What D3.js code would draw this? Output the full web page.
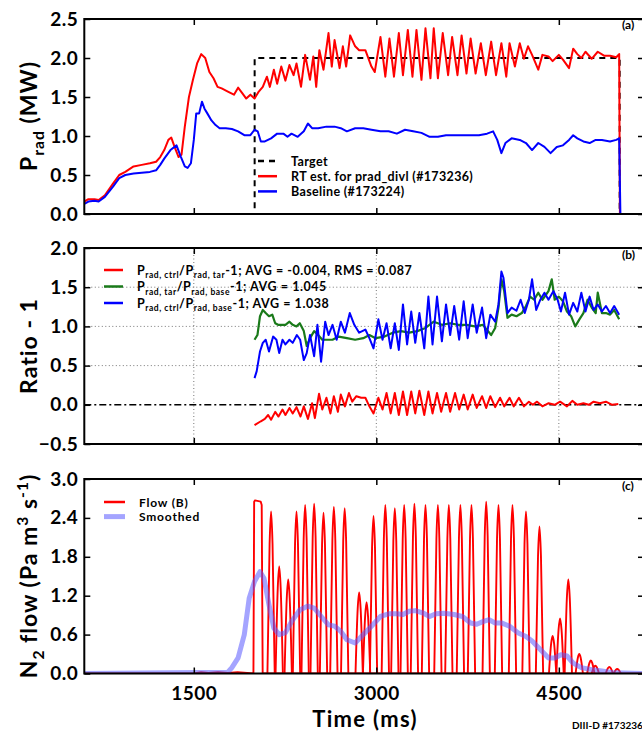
<!DOCTYPE html>
<html><head><meta charset="utf-8">
<script src="https://cdn.jsdelivr.net/npm/d3@7"></script>
<style>body{margin:0;background:#fff} svg{display:block} text{font-family:Lato,sans-serif}</style>
</head><body><svg id="c" width="642" height="734"></svg>
<script>
// ---------- DATA (time in ms) ----------
const xTicks = [1500, 3000, 4500];
const yTicksA = [0, 0.5, 1.0, 1.5, 2.0, 2.5];
const yTicksB = [-0.5, 0, 0.5, 1.0, 1.5, 2.0];
const yTicksC = [0, 0.6, 1.2, 1.8, 2.4, 3.0];

// Panel (a)
const targetT = [600, 2000, 2000, 5000, 5000];
const targetV = [0, 0, 2.0, 2.0, 0];
const rtT = [600,634,684,718,769,836,887,937,1005,1072,1139,1190,1224,1257,1291,1315,1342,1375,1399,1426,1460,1493,1527,1561,1594,1628,1662,1695,1729,1780,1830,1864,1898,1931,1965,1999,
 2034,2067,2101,2125,2158,2185,2219,2253,2286,2320,2344,2381,2415,2455,2482,2506,2532,2566,2607,2634,2657,2698,2725,2752,2785,2826,2859,2910,2960,2987,3034,3074,3108,3145,3185,3219,3259,3297,3330,3371,3404,3445,3472,3506,3546,3590,3623,3667,3701,3741,3775,3816,3859,3900,3944,3984,4028,4068,4095,4139,4179,4213,4247,4280,4331,4365,4415,4449,4500,4534,4584,4618,4652,4685,4719,4770,4820,4871,4921,4972,4996,5002,5200];
const rtV = [0.16,0.19,0.19,0.18,0.24,0.39,0.5,0.54,0.61,0.63,0.65,0.67,0.73,0.82,0.95,0.98,0.86,0.73,0.76,1.12,1.5,1.72,1.93,2.05,2.0,1.82,1.74,1.63,1.61,1.57,1.53,1.62,1.55,1.48,1.53,1.48,
 1.57,1.63,1.76,1.63,1.85,1.67,1.89,1.71,1.91,1.78,1.93,1.63,2.04,1.72,2.02,1.63,2.1,1.85,2.32,1.89,2.23,1.87,2.15,1.89,2.29,2.15,2.1,2.1,1.89,1.82,2.27,1.76,2.25,1.76,2.32,1.78,2.36,1.76,2.36,1.72,2.38,1.74,2.38,1.74,2.32,1.78,2.27,1.78,2.29,1.8,2.25,1.8,2.19,1.78,2.21,1.78,2.19,1.76,2.19,1.89,2.19,1.99,2.15,2.04,1.85,2.04,2.02,1.96,2.04,1.98,1.87,2.12,2.05,2.0,2.08,1.99,2.08,2.03,2.03,2.01,2.05,0,0];
const baseT = [600,634,684,718,769,836,887,937,1005,1072,1139,1190,1224,1257,1308,1358,1392,1426,1449,1476,1500,1520,1544,1567,1588,1611,1645,1679,1712,1763,1813,1864,1915,1965,1999,2025,2051,2084,2135,2185,2236,2270,2303,2354,2404,2438,2472,2522,2590,2657,2708,2758,2826,2893,2960,3034,3101,3169,3236,3303,3371,3438,3506,3573,3640,3708,3775,3843,3910,3960,3994,4028,4061,4112,4179,4230,4280,4331,4382,4432,4483,4534,4584,4618,4652,4702,4753,4803,4854,4921,4972,4996,5006,5200];
const baseV = [0.13,0.16,0.17,0.16,0.22,0.35,0.46,0.5,0.52,0.53,0.54,0.56,0.63,0.71,0.82,0.88,0.74,0.61,0.59,0.65,0.95,1.29,1.29,1.44,1.35,1.29,1.2,1.14,1.1,1.1,1.09,1.06,1.01,1.01,1.08,1.06,0.93,0.93,0.97,1.03,1.03,0.99,1.03,0.99,1.06,1.16,1.1,1.1,1.12,1.12,1.1,1.06,1.1,1.1,1.08,1.06,1.06,1.03,1.08,1.06,1.04,0.99,0.99,1.01,1.01,1.01,1.01,1.01,1.03,1.06,0.95,0.78,0.91,0.97,0.95,0.91,0.82,0.91,0.86,0.78,0.86,0.88,0.95,1.01,0.97,0.93,0.91,0.95,0.95,0.93,0.95,0.97,0,0];

// Panel (b)
const ctrlTarT = [1999,2051,2084,2111,2135,2169,2196,2229,2253,2286,2313,2344,2377,2404,2438,2472,2495,2529,2556,2590,2623,2651,2684,2708,2742,2775,2802,2836,2876,2910,2943,2977,3017,3051,3084,3118,3152,3185,3219,3253,3287,3320,3354,3394,3428,3462,3499,3533,3573,3607,3647,3681,3718,3751,3792,3825,3869,3903,3937,3977,4017,4051,4095,4129,4172,4213,4254,4287,4321,4365,4416,4466,4510,4567,4611,4652,4702,4746,4786,4837,4887,4938,4989];
const ctrlTarV = [-0.26,-0.21,-0.18,-0.13,-0.19,-0.09,-0.15,-0.06,-0.13,-0.04,-0.11,-0.03,-0.15,-0.02,-0.18,0.02,-0.17,0.14,-0.06,0.09,-0.11,0.11,-0.09,0.13,-0.02,0.15,0.04,0.11,0.09,0.09,-0.02,-0.11,0.09,-0.06,0.15,-0.11,0.15,-0.13,0.17,-0.13,0.17,-0.11,0.18,-0.13,0.17,-0.11,0.15,-0.09,0.15,-0.09,0.15,-0.06,0.13,-0.06,0.13,-0.04,0.11,-0.04,0.11,-0.03,0.09,-0.02,0.09,-0.02,0.09,-0.02,0.04,0.0,0.04,-0.02,0.02,0.0,0.04,-0.02,0.05,0.0,0.02,0.0,0.04,0.02,0.04,0.0,0.01];
const tarBaseT = [1999,2023,2044,2067,2091,2118,2145,2169,2192,2219,2253,2286,2313,2344,2371,2404,2428,2455,2489,2522,2556,2590,2640,2691,2758,2826,2893,2943,2994,3067,3135,3202,3270,3337,3404,3472,3539,3607,3674,3741,3809,3876,3944,3977,4004,4028,4051,4078,4112,4152,4196,4230,4264,4297,4331,4365,4415,4442,4466,4500,4534,4567,4601,4635,4669,4702,4736,4770,4803,4820,4854,4887,4921,4955,4996];
const tarBaseV = [0.83,0.89,1.13,1.21,1.17,1.13,1.15,1.04,1.02,1.02,1.02,1.06,1.02,1.0,1.04,0.94,0.75,0.85,0.94,0.89,0.83,0.83,0.83,0.87,0.85,0.83,0.85,0.89,0.85,0.87,0.92,0.94,0.92,0.94,0.98,1.06,1.02,1.04,1.02,1.02,1.0,1.02,0.89,0.98,1.24,1.6,1.45,1.11,1.15,1.13,1.17,1.26,1.38,1.34,1.43,1.34,1.45,1.6,1.34,1.38,1.32,1.19,1.13,1.0,1.09,1.17,1.34,1.24,1.17,1.43,1.17,1.17,1.15,1.21,1.09];
const ctrlBaseT = [1999,2017,2044,2067,2091,2118,2152,2179,2202,2229,2253,2286,2313,2347,2374,2404,2428,2455,2489,2516,2546,2580,2607,2640,2674,2708,2742,2782,2819,2859,2910,2943,2977,3017,3051,3084,3118,3152,3185,3219,3253,3287,3320,3354,3394,3428,3462,3499,3539,3573,3607,3640,3681,3718,3751,3792,3825,3869,3903,3937,3977,4004,4028,4045,4078,4112,4152,4186,4220,4254,4280,4314,4348,4382,4415,4456,4490,4517,4551,4584,4618,4652,4685,4719,4753,4786,4820,4854,4887,4921,4955,4996];
const ctrlBaseV = [0.34,0.43,0.68,0.79,0.83,0.68,0.87,0.83,0.66,0.83,0.77,0.83,0.79,0.89,0.83,0.57,0.66,0.89,0.62,1.02,0.55,1.06,0.89,1.02,0.83,1.06,0.92,1.17,1.02,0.92,0.96,0.85,0.72,1.09,0.83,1.04,0.72,1.04,0.7,1.28,0.77,1.19,0.79,1.17,0.72,1.38,0.77,1.38,0.81,1.28,0.89,1.26,0.83,1.32,0.85,1.28,0.92,1.24,0.85,1.15,1.06,1.28,1.7,1.62,1.17,1.24,1.2,1.34,1.17,1.34,1.6,1.21,1.34,1.43,1.34,1.45,1.34,1.19,1.43,1.15,1.3,1.19,1.43,1.19,1.38,1.21,1.28,1.19,1.26,1.17,1.26,1.15];

// Panel (c)
const pulseT = [2135,2202,2276,2344,2415,2489,2566,2651,2740,2859,2920,2977,3074,3152,3229,3313,3404,3506,3596,3691,3782,3903,4004,4119,4230,4341,4449,4510,4578,4668,4763,4800,4915,4980];
const pulseH = [2.5,1.65,1.45,2.5,2.6,2.62,2.48,2.57,2.55,1.25,1.1,2.43,2.6,2.55,2.6,2.62,2.6,2.6,2.6,2.6,2.6,2.65,2.6,2.6,2.5,2.27,0.58,0.85,1.45,0.3,0.2,0.12,0.1,0.07];
const wideT = [600,1500,1560,1620,1700,1780,1860,1990,1996,2003,2050,2058,2066,5200];
const wideV = [0,0,0.02,0.01,0.02,0.01,0.02,0.0,2.65,2.67,2.65,2.6,0,0];
const smoothT = [600,1780,1813,1864,1915,1955,1999,2044,2077,2118,2158,2202,2253,2303,2371,2438,2489,2556,2607,2657,2708,2758,2826,2893,2960,3034,3101,3169,3219,3270,3320,3388,3438,3489,3556,3640,3708,3775,3825,3876,3927,3977,4028,4095,4163,4230,4280,4348,4415,4466,4517,4567,4618,4685,4770,4854,4955,5200];
const smoothV = [0,0.02,0.09,0.24,0.6,1.16,1.42,1.57,1.47,1.06,0.7,0.6,0.63,0.8,0.98,1.04,1.01,0.86,0.75,0.73,0.65,0.52,0.47,0.6,0.73,0.88,0.92,0.92,0.91,0.96,0.97,0.93,0.88,0.92,0.93,0.91,0.88,0.78,0.76,0.8,0.83,0.78,0.78,0.73,0.63,0.57,0.5,0.37,0.24,0.24,0.29,0.27,0.16,0.09,0.06,0.04,0.01,0];

// ---------- DRAW ----------
const svg = d3.select('#c');
const X0 = 84.3, X1 = 644;
const x = d3.scaleLinear().domain([600, 5200]).range([X0, X1]);
const panels = {
  a: {top: 19, bot: 214, dom: [0, 2.5], ticks: yTicksA},
  b: {top: 248, bot: 444, dom: [-0.5, 2.0], ticks: yTicksB},
  c: {top: 479, bot: 673.5, dom: [0, 3.0], ticks: yTicksC}
};
const fmt = d3.format('.1f');
Object.entries(panels).forEach(([k, p]) => {
  p.y = d3.scaleLinear().domain(p.dom).range([p.bot, p.top]);
  svg.append('clipPath').attr('id', 'clip' + k).append('rect')
    .attr('x', X0).attr('y', p.top).attr('width', X1 - X0).attr('height', p.bot - p.top);
  p.data = svg.append('g').attr('clip-path', `url(#clip${k})`);
});

// grid for panel b
const pb = panels.b;
pb.data.selectAll('line.gx').data(xTicks).join('line')
  .attr('x1', d => x(d)).attr('x2', d => x(d)).attr('y1', pb.top).attr('y2', pb.bot)
  .attr('stroke', '#777').attr('stroke-width', 1).attr('stroke-dasharray', '1,2.5');
pb.data.selectAll('line.gy').data([0.5, 1.0, 1.5]).join('line')
  .attr('x1', X0).attr('x2', X1).attr('y1', d => pb.y(d)).attr('y2', d => pb.y(d))
  .attr('stroke', '#777').attr('stroke-width', 1).attr('stroke-dasharray', '1,2.5');

function series(p, T, V, color, w, extra) {
  const pts = T.map((t, i) => [t, V[i]]);
  const ln = d3.line().x(d => x(d[0])).y(d => p.y(d[1]));
  const path = p.data.append('path').datum(pts).attr('d', ln)
    .attr('fill', 'none').attr('stroke', color).attr('stroke-width', w)
    .attr('stroke-linejoin', 'round');
  if (extra) extra(path);
  return path;
}

// Panel a
const pa = panels.a;
series(pa, targetT, targetV, '#000', 2, s => s.attr('stroke-dasharray', '6,5'));
series(pa, rtT, rtV, '#ff0000', 2);
series(pa, baseT, baseV, '#0000ff', 2);

// Panel b
pb.data.append('line').attr('x1', X0).attr('x2', X1).attr('y1', pb.y(0)).attr('y2', pb.y(0))
  .attr('stroke', '#000').attr('stroke-width', 1.6).attr('stroke-dasharray', '7,3,2,3');
series(pb, ctrlTarT, ctrlTarV, '#ff0000', 2);
series(pb, tarBaseT, tarBaseV, '#1a7a1a', 2.2);
series(pb, ctrlBaseT, ctrlBaseV, '#0000ff', 2);

// Panel c
const pc = panels.c;
series(pc, wideT, wideV, '#ff0000', 1.9);
pulseT.forEach((t, i) => {
  const h = pulseH[i];
  const pts = [[t - 30, 0], [t - 12, h * 0.8], [t, h], [t + 12, h * 0.8], [t + 30, 0]];
  pc.data.append('path').datum(pts)
    .attr('d', d3.line().x(d => x(d[0])).y(d => pc.y(d[1])).curve(d3.curveMonotoneX))
    .attr('fill', 'none').attr('stroke', '#ff0000').attr('stroke-width', 1.9);
});
series(pc, smoothT, smoothV, 'rgba(90,90,255,0.55)', 5);

// Axes & frames
Object.entries(panels).forEach(([k, p]) => {
  const g = svg.append('g');
  g.append('g').attr('transform', `translate(${X0},0)`)
    .call(d3.axisLeft(p.y).tickValues(p.ticks).tickFormat(fmt).tickSize(-6).tickSizeOuter(0).tickPadding(6));
  g.append('g').attr('transform', `translate(${X1},0)`)
    .call(d3.axisRight(p.y).tickValues(p.ticks).tickFormat('').tickSize(-6).tickSizeOuter(0));
  g.append('g').attr('transform', `translate(0,${p.top})`)
    .call(d3.axisTop(x).tickValues(xTicks).tickFormat('').tickSize(-6).tickSizeOuter(0));
  g.append('g').attr('transform', `translate(0,${p.bot})`)
    .call(d3.axisBottom(x).tickValues(xTicks).tickFormat(k === 'c' ? d3.format('d') : '').tickSize(-6).tickSizeOuter(0).tickPadding(13));
  g.selectAll('.domain').remove();
  g.selectAll('.tick line').attr('stroke', '#000').attr('stroke-width', 1.5);
  g.selectAll('.tick text').attr('font-family', 'Lato,sans-serif').attr('font-weight', 700)
    .attr('font-size', 19).attr('fill', '#000').attr('letter-spacing', 0.5);
  g.append('rect').attr('x', X0).attr('y', p.top).attr('width', X1 - X0).attr('height', p.bot - p.top)
    .attr('fill', 'none').attr('stroke', '#000').attr('stroke-width', 2);
});

// Text helpers
function richText(parent, parts, size) {
  const t = parent.append('text').attr('font-size', size);
  let shift = 0;
  parts.forEach(([s, type]) => {
    const target = type === 'sub' ? 0.3 : type === 'sup' ? -0.4 : 0;
    t.append('tspan').text(s)
      .attr('font-size', type ? size * 0.68 : size)
      .attr('dy', ((target - shift) * size).toFixed(2));
    shift = target;
  });
  return t;
}

function yTitle(cx, cy, parts, size) {
  const g = svg.append('g').attr('transform', `translate(${cx},${cy}) rotate(-90)`);
  return richText(g, parts, size).attr('text-anchor', 'middle').attr('font-weight', 700)
    .attr('fill', '#000').attr('letter-spacing', 1);
}
yTitle(37, 116, [['P', ''], ['rad', 'sub'], [' (MW)', '']], 23);
yTitle(37, 346, [['Ratio - 1', '']], 23);
yTitle(37, 576, [['N', ''], ['2', 'sub'], [' flow (Pa m', ''], ['3', 'sup'], [' s', ''], ['-1', 'sup'], [')', '']], 23);

svg.append('text').attr('x', 365).attr('y', 727).attr('text-anchor', 'middle')
  .attr('font-size', 22).attr('font-weight', 700).attr('letter-spacing', 1.3).text('Time (ms)');
svg.append('text').attr('x', 572).attr('y', 729).attr('font-size', 10).attr('font-weight', 700).text('DIII-D #173236');

[['(a)', 29], ['(b)', 259], ['(c)', 490]].forEach(([s, yy]) => {
  svg.append('text').attr('x', 622).attr('y', yy).attr('font-size', 12).attr('font-weight', 700).text(s);
});

// Legends
function legend(x0, y0, dy, items, lw, fs, ls) {
  items.forEach((it, i) => {
    const yy = y0 + i * dy;
    const l = svg.append('line').attr('x1', x0).attr('x2', x0 + lw).attr('y1', yy).attr('y2', yy)
      .attr('stroke', it.color).attr('stroke-width', it.w || 2.5);
    if (it.dash) l.attr('stroke-dasharray', it.dash);
    const t = richText(svg.append('g').attr('transform', `translate(${x0 + lw + 14},${yy + 4.5})`), it.parts, fs);
    t.attr('font-weight', 700).attr('fill', '#000').attr('letter-spacing', ls);
  });
}
legend(258, 161, 15.2, [
  {color: '#000', dash: '6,5', parts: [['Target', '']]},
  {color: '#ff0000', parts: [['RT est. for prad_divl (#173236)', '']]},
  {color: '#0000ff', parts: [['Baseline (#173224)', '']]}
], 19, 12.5, 0.35);
legend(104, 270, 16.5, [
  {color: '#ff0000', parts: [['P', ''], ['rad, ctrl', 'sub'], ['/P', ''], ['rad, tar', 'sub'], ['-1; AVG = -0.004, RMS = 0.087', '']]},
  {color: '#1a7a1a', parts: [['P', ''], ['rad, tar', 'sub'], ['/P', ''], ['rad, base', 'sub'], ['-1; AVG = 1.045', '']]},
  {color: '#0000ff', parts: [['P', ''], ['rad, ctrl', 'sub'], ['/P', ''], ['rad, base', 'sub'], ['-1; AVG = 1.038', '']]}
], 19, 12.5, 0.55);
legend(104, 502, 14.6, [
  {color: '#ff0000', parts: [['Flow (B)', '']]},
  {color: 'rgba(90,90,255,0.55)', w: 5, parts: [['Smoothed', '']]}
], 21, 12, 0.8);
</script></body></html>
